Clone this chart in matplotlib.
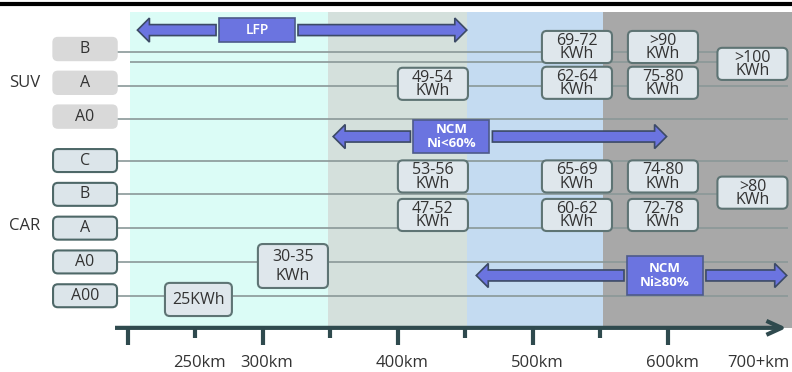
import matplotlib
matplotlib.use("Agg")
import matplotlib.pyplot as plt
from matplotlib.patches import FancyArrow, FancyArrowPatch, FancyBboxPatch, Rectangle

plt.rcParams["font.family"] = ["Open Sans", "DejaVu Sans"]

# driving range bands along the km axis
band_edges_km = [201.5, 348, 451, 552, 692]
band_colors = ["#dbfcf6", "#d4e0dc", "#c4dbf1", "#a8a8a8"]

tick_km = [200, 250, 300, 350, 400, 450, 500, 550, 600]
tick_labels = ["", "250km", "300km", "", "400km", "", "500km", "", "600km"]
open_end_km = 667
open_end_label = "700+km"

suv_classes = ["B", "A", "A0"]
car_classes = ["C", "B", "A", "A0", "A00"]

# battery chemistry and the range it covers
chem_labels = ["LFP", "NCM\nNi<60%", "NCM\nNi≥80%"]
chem_from_km = [207, 352, 458]
chem_to_km = [451, 599, 688]

# pack capacity per vehicle class and range
cap_group = ["SUV", "SUV", "SUV", "SUV", "SUV", "SUV",
             "CAR", "CAR", "CAR", "CAR", "CAR", "CAR", "CAR", "CAR", "CAR"]
cap_class = ["B", "B", "B", "A", "A", "A",
             "C", "C", "C", "B", "A", "A", "A", "A0", "A00"]
cap_km = [532.6, 596.3, 662.6, 425.9, 532.6, 596.3,
          425.9, 532.6, 596.3, 662.6, 425.9, 532.6, 596.3, 322.2, 252.2]
cap_labels = ["69-72\nKWh", ">90\nKWh", ">100\nKWh", "49-54\nKWh", "62-64\nKWh", "75-80\nKWh",
              "53-56\nKWh", "65-69\nKWh", "74-80\nKWh", ">80\nKWh", "47-52\nKWh", "60-62\nKWh",
              "72-78\nKWh", "30-35\nKWh", "25KWh"]

# layout: vertical nudge of each capacity box from its class row
cap_dy = [-0.06, -0.06, 0.44, 0.03, 0.0, 0.0,
          0.47, 0.47, 0.47, -0.05, -0.39, -0.39, -0.39, 0.12, 0.11]

PX_PER_KM = 1.35
PX_PER_ROW = 33.8
ASPECT = PX_PER_KM / PX_PER_ROW

AXIS_COLOR = "#2f4a4e"
LINE_COLOR = "#8a9898"
TEXT_COLOR = "#333333"
ARROW_FILL = "#6b74e0"
ARROW_EDGE = "#3c4a66"

row_y = {}
for i, c in enumerate(suv_classes):
    row_y[("SUV", c)] = i
for i, c in enumerate(car_classes):
    row_y[("CAR", c)] = 3.3 + i

fig = plt.figure(figsize=(7.92, 3.72), dpi=100)
ax = fig.add_axes([0, 0, 1, 1])
ax.set_xlim(105.2, 691.9)
ax.set_ylim(9.556, -1.45)
ax.axis("off")


def rounded_box(xc, yc, w, h, fc, ec, lw, r=3.6):
    box = FancyBboxPatch((xc - w / 2, yc - h / 2), w, h,
                         boxstyle=f"round,pad=0,rounding_size={r}",
                         mutation_aspect=ASPECT, fc=fc, ec=ec, lw=lw, zorder=4)
    ax.add_patch(box)


# background bands
band_top, band_bottom = -1.09, 8.25
for x0, x1, col in zip(band_edges_km[:-1], band_edges_km[1:], band_colors):
    ax.add_patch(Rectangle((x0, band_top), x1 - x0, band_bottom - band_top,
                           fc=col, ec="none", zorder=0))

ax.axhline(-1.32, color="black", lw=3, zorder=5)

# class rows with their guide lines
for (grp, cls), y in row_y.items():
    ly = y + 0.08 if grp == "SUV" else y
    ax.hlines(ly, 192, 689, color=LINE_COLOR, lw=1.2, zorder=1)
    if grp == "SUV":
        rounded_box(168.2, y, 47.4, 0.68, "#d9d9d9", "#d9d9d9", 1.0)
    else:
        rounded_box(168.2, y, 47.4, 0.68, "#dce5ea", "#4e6868", 1.5)
    ax.text(168.2, y, cls, ha="center", va="center", fontsize=11.5,
            color=TEXT_COLOR, zorder=6)
ax.hlines(row_y[("SUV", "B")] + 0.38, 201.5, 689, color=LINE_COLOR, lw=1.2, zorder=1)

ax.text(123.7, row_y[("SUV", "A")], "SUV", ha="center", va="center",
        fontsize=12, color=TEXT_COLOR)
ax.text(123.7, row_y[("CAR", "A")] - 0.06, "CAR", ha="center", va="center",
        fontsize=12, color=TEXT_COLOR)

# capacity boxes
for grp, cls, km, lab, dy in zip(cap_group, cap_class, cap_km, cap_labels, cap_dy):
    y = row_y[(grp, cls)] + dy
    w, h, ls = 51.9, 0.95, 0.78
    if lab.startswith("30-35"):
        h, ls = 1.3, 1.2
    elif "\n" not in lab:
        w, h = 49.6, 0.98
    rounded_box(km, y, w, h, "#dfe7ec", "#5e7474", 1.5)
    ax.text(km, y + 0.02, lab, ha="center", va="center", fontsize=11.5,
            linespacing=ls, color=TEXT_COLOR, zorder=6)

# chemistry arrows with their label boxes
chem_box_km = [295.6, 439.6, 597.8]
chem_box_y = [-0.56, 2.59, 6.7]
chem_box_h = [0.71, 1.0, 1.18]
chem_box_w = 56.3
gap = 2.2
for lab, k0, k1, bx, by, bh in zip(chem_labels, chem_from_km, chem_to_km,
                                   chem_box_km, chem_box_y, chem_box_h):
    left = bx - chem_box_w / 2 - gap
    right = bx + chem_box_w / 2 + gap
    for start, end in ((left, k0), (right, k1)):
        ax.add_patch(FancyArrow(start, by, end - start, 0, width=0.325,
                                head_width=0.71, head_length=8.9,
                                length_includes_head=True, fc=ARROW_FILL,
                                ec=ARROW_EDGE, lw=1.2, zorder=3))
    ax.add_patch(Rectangle((bx - chem_box_w / 2, by - bh / 2), chem_box_w, bh,
                           fc=ARROW_FILL, ec="#4d5a8a", lw=1.2, zorder=4))
    ax.text(bx, by, lab, ha="center", va="center", color="white",
            fontsize=10 if lab == "LFP" else 9.5,
            fontweight="semibold" if lab == "LFP" else "bold",
            linespacing=1.05, zorder=6)

# range axis
ax.add_patch(FancyArrowPatch((190.4, band_bottom), (688, band_bottom),
                             arrowstyle="->,head_length=1.1,head_width=0.5",
                             mutation_scale=10, lw=3, color=AXIS_COLOR,
                             shrinkA=0, shrinkB=0, capstyle="butt", zorder=5))
for km, lab in zip(tick_km, tick_labels):
    tick_len = 0.5 if (km % 100 == 0) else 0.3
    ax.vlines(km, band_bottom, band_bottom + tick_len, color=AXIS_COLOR,
              lw=3, capstyle="butt", zorder=5)
    if lab:
        ax.text(km + 3, 9.3, lab, ha="center", va="center", fontsize=12,
                color=TEXT_COLOR)
ax.text(open_end_km, 9.3, open_end_label, ha="center", va="center",
        fontsize=12, color=TEXT_COLOR)

fig.savefig("out.png", dpi=100)
